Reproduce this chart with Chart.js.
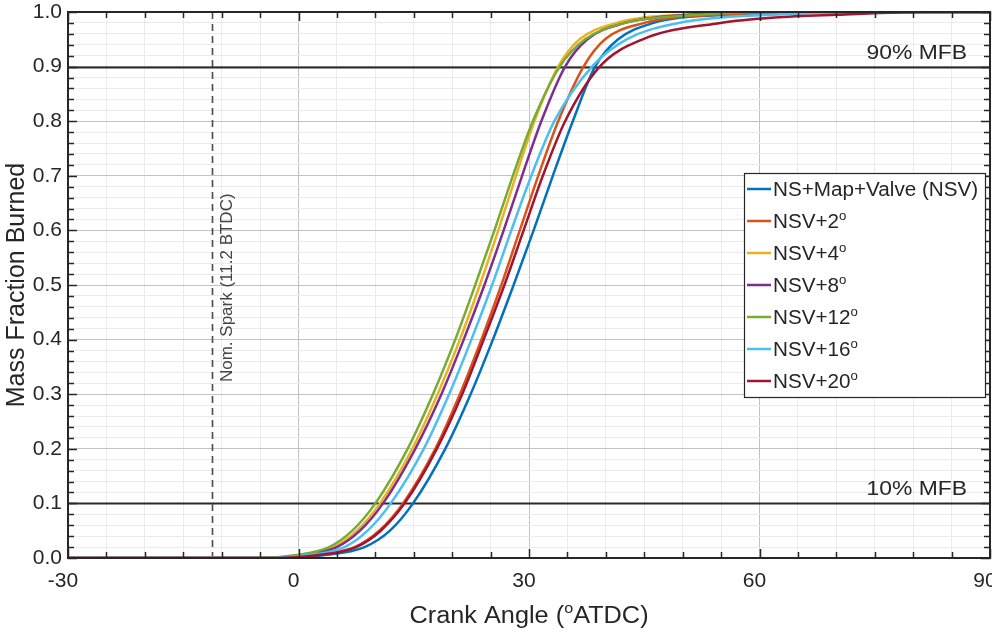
<!DOCTYPE html>
<html>
<head>
<meta charset="utf-8">
<title>Mass Fraction Burned vs Crank Angle</title>
<script src="https://cdn.jsdelivr.net/npm/chart.js@4.4.1/dist/chart.umd.min.js"></script>
<style>
  html, body { margin: 0; padding: 0; background: #ffffff; }
  #wrap { width: 992px; height: 634px; position: relative; }
</style>
</head>
<body>
<div id="wrap"><canvas id="mfb"></canvas></div>
<script>
// Mass fraction burned levels shared by every curve
const mfbLevels = [0, 0, 0.005, 0.02, 0.05, 0.1, 0.2, 0.3, 0.4, 0.5, 0.6, 0.7, 0.8, 0.9, 0.95, 0.98, 0.99, 0.995, 1, 1];

// Crank angle (deg ATDC) at which each case reaches the level above
const anglesNSV   = [-30, -1.5, 3.2, 8.6, 11.9, 14.9, 19.1, 22.4, 25.3, 28.0, 30.6, 33.1, 35.7, 38.6, 41.6, 46.2, 50.0, 56, 66, 90];
const anglesNSV2  = [-30, -2.5, 2.2, 7.3, 10.5, 13.6, 17.8, 21.0, 23.8, 26.4, 28.8, 31.2, 33.8, 37.1, 39.9, 45.0, 49.0, 55, 64, 90];
const anglesNSV4  = [-30, -4.0, 0.2, 4.6, 7.6, 10.6, 14.8, 18.1, 21.0, 23.6, 26.0, 28.3, 30.7, 33.8, 36.6, 41.4, 45.0, 50, 58, 90];
const anglesNSV8  = [-30, -3.8, 0.5, 5.0, 8.0, 11.0, 15.2, 18.6, 21.5, 24.2, 26.7, 29.1, 31.6, 34.7, 37.6, 42.5, 46.5, 51, 60, 90];
const anglesNSV12 = [-30, -5.0, -0.5, 4.0, 7.0, 10.0, 14.2, 17.5, 20.4, 23.0, 25.5, 27.9, 30.5, 34.0, 37.3, 42.5, 47.0, 52, 60, 90];
const anglesNSV16 = [-30, -3.5, 1.2, 6.0, 9.0, 12.0, 16.3, 19.6, 22.5, 25.2, 27.7, 30.3, 33.3, 38.2, 42.7, 49.5, 55.0, 62, 72, 90];
const anglesNSV20 = [-30, -2.5, 2.4, 7.5, 10.7, 13.8, 18.0, 21.3, 24.1, 26.8, 29.3, 31.8, 34.7, 39.2, 44.8, 54.9, 62.0, 70, 82, 90];

const seriesNames  = ['NS+Map+Valve (NSV)', 'NSV+2°', 'NSV+4°', 'NSV+8°', 'NSV+12°', 'NSV+16°', 'NSV+20°'];
const seriesAngles = [anglesNSV, anglesNSV2, anglesNSV4, anglesNSV8, anglesNSV12, anglesNSV16, anglesNSV20];
const seriesColors = ['#0072BD', '#D95319', '#EDB120', '#7E2F8E', '#77AC30', '#4DBEEE', '#A2142F'];

// Axis ranges and tick labels
const xRange = [-30, 90];
const xLabelTicks = [-30, 0, 30, 60, 90];
const yRange = [0, 1];
const yLabelTicks = [0, 0.1, 0.2, 0.3, 0.4, 0.5, 0.6, 0.7, 0.8, 0.9, 1.0];

// Reference markers
const mfbMarkers = [0.1, 0.9];
const mfbMarkerLabels = ['10% MFB', '90% MFB'];
const sparkAngle = -11.2;
const sparkLabel = 'Nom. Spark (11.2 BTDC)';

const xTitle = 'Crank Angle (°ATDC)';
const yTitle = 'Mass Fraction Burned';

const FONT = '"Liberation Sans", Arial, Helvetica, sans-serif';
const INK = '#262626';

// Draws text where each '°' is rendered as a raised small "o";
// sx widens the glyphs horizontally.
function drawRich(ctx, text, x, y, size, align, sx) {
  sx = sx || 1;
  const parts = text.split('°');
  const segs = [];
  parts.forEach((p, i) => {
    if (p) segs.push({ t: p, sup: false });
    if (i < parts.length - 1) segs.push({ t: 'o', sup: true });
  });
  const supSize = size * 0.64;
  let total = 0;
  segs.forEach(s => {
    ctx.font = (s.sup ? supSize : size) + 'px ' + FONT;
    s.w = ctx.measureText(s.t).width;
    total += s.w;
  });
  const start = align === 'center' ? x - total * sx / 2 : (align === 'right' ? x - total * sx : x);
  ctx.save();
  ctx.translate(start, y);
  ctx.scale(sx, 1);
  ctx.textAlign = 'left';
  ctx.textBaseline = 'alphabetic';
  let cx = 0;
  segs.forEach(s => {
    ctx.font = (s.sup ? supSize : size) + 'px ' + FONT;
    ctx.fillText(s.t, cx, s.sup ? -size * 0.42 : 0);
    cx += s.w;
  });
  ctx.restore();
}

const isMajorX = v => Math.abs(v % 30) < 1e-6;
const isMajorY = v => Math.abs(v * 10 - Math.round(v * 10)) < 1e-6;

const datasets = seriesNames.map((name, i) => ({
  label: name,
  data: seriesAngles[i].map((a, k) => ({ x: a, y: mfbLevels[k] })),
  borderColor: seriesColors[i],
  backgroundColor: seriesColors[i],
  borderWidth: 2.5,
  pointRadius: 0,
  fill: false,
  cubicInterpolationMode: 'monotone',
  order: seriesNames.length - 1 - i
}));

// Reference lines drawn beneath the curves
const markerPlugin = {
  id: 'markers',
  beforeDatasetsDraw(chart) {
    const { ctx, chartArea: a, scales: { x, y } } = chart;
    ctx.save();
    ctx.strokeStyle = '#2b2b2b';
    ctx.lineWidth = 2;
    mfbMarkers.forEach(v => {
      const py = Math.round(y.getPixelForValue(v)) + 0.5;
      ctx.beginPath(); ctx.moveTo(a.left, py); ctx.lineTo(a.right, py); ctx.stroke();
    });
    const sx = Math.round(x.getPixelForValue(sparkAngle)) + 0.5;
    ctx.strokeStyle = '#4a4a4a';
    ctx.lineWidth = 1.6;
    ctx.setLineDash([7, 5]);
    ctx.beginPath(); ctx.moveTo(sx, a.top); ctx.lineTo(sx, a.bottom); ctx.stroke();
    ctx.restore();
  }
};

// Frame, inward tick marks, annotations, legend and axis titles
const decorPlugin = {
  id: 'decor',
  afterDatasetsDraw(chart) {
    const { ctx, chartArea: a, scales: { x, y } } = chart;
    ctx.save();
    ctx.strokeStyle = INK;
    ctx.lineWidth = 1.5;
    x.ticks.forEach(t => {
      const px = Math.round(x.getPixelForValue(t.value)) + 0.5;
      const len = isMajorX(t.value) ? 9 : 6;
      ctx.beginPath();
      ctx.moveTo(px, a.bottom); ctx.lineTo(px, a.bottom - len);
      ctx.moveTo(px, a.top); ctx.lineTo(px, a.top + len);
      ctx.stroke();
    });
    y.ticks.forEach(t => {
      const py = Math.round(y.getPixelForValue(t.value)) + 0.5;
      const len = isMajorY(t.value) ? 9 : 6;
      ctx.beginPath();
      ctx.moveTo(a.left, py); ctx.lineTo(a.left + len, py);
      ctx.moveTo(a.right, py); ctx.lineTo(a.right - len, py);
      ctx.stroke();
    });
    ctx.lineWidth = 2;
    ctx.strokeRect(a.left, a.top, a.right - a.left, a.bottom - a.top);

    // MFB marker labels
    ctx.fillStyle = INK;
    mfbMarkers.forEach((v, i) => {
      drawRich(ctx, mfbMarkerLabels[i], a.right - 23, y.getPixelForValue(v) - 8, 21, 'right', 1.09);
    });

    // spark timing label, rotated along the dashed line
    ctx.save();
    ctx.fillStyle = '#444444';
    ctx.translate(x.getPixelForValue(sparkAngle) + 20, y.getPixelForValue(0.495));
    ctx.rotate(-Math.PI / 2);
    ctx.font = '17px ' + FONT;
    ctx.textAlign = 'center';
    ctx.textBaseline = 'alphabetic';
    ctx.fillText(sparkLabel, 0, 0);
    ctx.restore();

    // legend box
    const lx = a.right - 246, ly = a.top + 161, lw = 241, lh = 224;
    ctx.fillStyle = '#ffffff';
    ctx.fillRect(lx, ly, lw, lh);
    ctx.strokeStyle = INK;
    ctx.lineWidth = 1.2;
    ctx.strokeRect(lx + 0.5, ly + 0.5, lw, lh);
    chart.data.datasets.forEach((ds, i) => {
      const cy = ly + 16 + i * 32;
      ctx.strokeStyle = ds.borderColor;
      ctx.lineWidth = 2.5;
      ctx.beginPath(); ctx.moveTo(lx + 3, cy); ctx.lineTo(lx + 27, cy); ctx.stroke();
      ctx.fillStyle = INK;
      drawRich(ctx, ds.label, lx + 29, cy + 7, 19.5, 'left', 1.06);
    });

    // axis titles
    ctx.fillStyle = INK;
    drawRich(ctx, xTitle, (a.left + a.right) / 2, 623, 23, 'center', 1.1);
    ctx.save();
    ctx.translate(24, (a.top + a.bottom) / 2);
    ctx.rotate(-Math.PI / 2);
    drawRich(ctx, yTitle, 0, 0, 25, 'center', 1);
    ctx.restore();
    ctx.restore();
  }
};

new Chart(document.getElementById('mfb'), {
  type: 'line',
  data: { datasets },
  options: {
    responsive: true,
    maintainAspectRatio: false,
    animation: false,
    layout: { padding: { top: 12, right: 2, left: 0, bottom: 0 } },
    plugins: { legend: { display: false }, tooltip: { enabled: false }, title: { display: false } },
    scales: {
      x: {
        type: 'linear',
        min: xRange[0], max: xRange[1],
        border: { display: false },
        grid: {
          drawTicks: false,
          lineWidth: 1,
          color: c => isMajorX(c.tick.value) ? '#c2c2c2' : '#ebebeb'
        },
        ticks: {
          stepSize: 5,
          autoSkip: false,
          maxRotation: 0,
          padding: 11,
          labelOffset: -5,
          color: INK,
          font: { family: FONT, size: 21 },
          callback: v => xLabelTicks.includes(v) ? String(v) : ''
        },
        afterFit(s) { s.height = 76; s.paddingLeft = 0; s.paddingRight = 0; }
      },
      y: {
        type: 'linear',
        min: yRange[0], max: yRange[1],
        border: { display: false },
        grid: {
          drawTicks: false,
          lineWidth: 1,
          color: c => isMajorY(c.tick.value) ? '#c2c2c2' : '#ebebeb'
        },
        ticks: {
          stepSize: 0.02,
          autoSkip: false,
          padding: 6,
          color: INK,
          font: { family: FONT, size: 21 },
          callback: v => yLabelTicks.some(t => Math.abs(t - v) < 1e-6) ? v.toFixed(1) : ''
        },
        afterFit(s) { s.width = 68; s.paddingTop = 0; s.paddingBottom = 0; }
      }
    }
  },
  plugins: [markerPlugin, decorPlugin]
});
</script>
</body>
</html>
